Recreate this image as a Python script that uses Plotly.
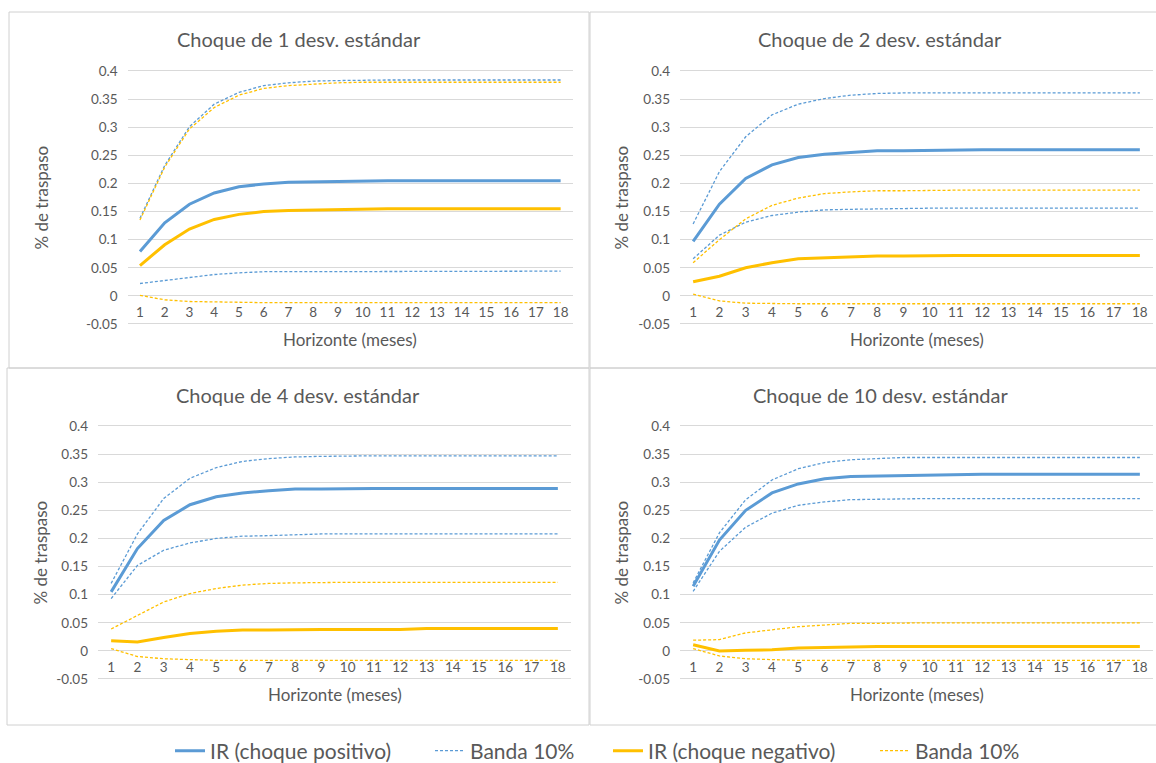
import plotly.graph_objects as go

W, H = 1156, 763

horizon = list(range(1, 19))
x_labels = [str(h) for h in horizon]
y_ticks = [-0.05, 0, 0.05, 0.1, 0.15, 0.2, 0.25, 0.3, 0.35, 0.4]
y_labels = ["-0.05", "0", "0.05", "0.1", "0.15", "0.2", "0.25", "0.3", "0.35", "0.4"]

titles = ["Choque de 1 desv. estándar", "Choque de 2 desv. estándar",
          "Choque de 4 desv. estándar", "Choque de 10 desv. estándar"]
legend_names = ["IR (choque positivo)", "Banda 10%", "IR (choque negativo)", "Banda 10%"]

# Panel 1 : 1 desv. estándar
ir_pos_1 = [0.079, 0.130, 0.163, 0.183, 0.194, 0.199, 0.202, 0.203, 0.204, 0.205, 0.205, 0.205, 0.205, 0.205, 0.205, 0.205, 0.205, 0.205]
pos_hi_1 = [0.138, 0.232, 0.301, 0.341, 0.362, 0.374, 0.379, 0.382, 0.383, 0.384, 0.384, 0.384, 0.384, 0.384, 0.384, 0.384, 0.384, 0.384]
pos_lo_1 = [0.022, 0.027, 0.033, 0.038, 0.041, 0.043, 0.043, 0.043, 0.044, 0.044, 0.044, 0.044, 0.044, 0.044, 0.044, 0.044, 0.044, 0.044]
ir_neg_1 = [0.054, 0.091, 0.119, 0.136, 0.145, 0.150, 0.152, 0.153, 0.154, 0.155, 0.155, 0.155, 0.155, 0.155, 0.155, 0.155, 0.155, 0.155]
neg_hi_1 = [0.135, 0.229, 0.297, 0.335, 0.357, 0.369, 0.374, 0.377, 0.379, 0.380, 0.380, 0.380, 0.380, 0.380, 0.380, 0.380, 0.380, 0.380]
neg_lo_1 = [0.001, -0.007, -0.010, -0.011, -0.012, -0.012, -0.012, -0.012, -0.012, -0.012, -0.012, -0.012, -0.012, -0.012, -0.012, -0.012, -0.012, -0.012]

# Panel 2 : 2 desv. estándar
ir_pos_2 = [0.097, 0.163, 0.209, 0.233, 0.246, 0.252, 0.255, 0.258, 0.258, 0.259, 0.260, 0.260, 0.260, 0.260, 0.260, 0.260, 0.260, 0.260]
pos_hi_2 = [0.128, 0.221, 0.283, 0.322, 0.341, 0.351, 0.357, 0.360, 0.361, 0.361, 0.361, 0.361, 0.361, 0.361, 0.361, 0.361, 0.361, 0.361]
pos_lo_2 = [0.066, 0.108, 0.131, 0.143, 0.149, 0.153, 0.154, 0.155, 0.156, 0.156, 0.156, 0.156, 0.156, 0.156, 0.156, 0.156, 0.156, 0.156]
ir_neg_2 = [0.025, 0.035, 0.050, 0.059, 0.066, 0.068, 0.069, 0.071, 0.071, 0.072, 0.072, 0.072, 0.072, 0.072, 0.072, 0.072, 0.072, 0.072]
neg_hi_2 = [0.059, 0.100, 0.137, 0.161, 0.174, 0.182, 0.185, 0.187, 0.187, 0.188, 0.188, 0.188, 0.188, 0.188, 0.188, 0.188, 0.188, 0.188]
neg_lo_2 = [0.003, -0.009, -0.013, -0.014, -0.014, -0.014, -0.014, -0.014, -0.014, -0.014, -0.014, -0.014, -0.014, -0.014, -0.014, -0.014, -0.014, -0.014]

# Panel 3 : 4 desv. estándar
ir_pos_3 = [0.105, 0.182, 0.232, 0.260, 0.274, 0.281, 0.285, 0.288, 0.288, 0.289, 0.289, 0.289, 0.289, 0.289, 0.289, 0.289, 0.289, 0.289]
pos_hi_3 = [0.120, 0.208, 0.271, 0.307, 0.326, 0.337, 0.342, 0.345, 0.346, 0.347, 0.347, 0.347, 0.347, 0.347, 0.347, 0.347, 0.347, 0.347]
pos_lo_3 = [0.093, 0.152, 0.179, 0.192, 0.200, 0.204, 0.205, 0.207, 0.208, 0.208, 0.208, 0.208, 0.208, 0.208, 0.208, 0.208, 0.208, 0.208]
ir_neg_3 = [0.018, 0.016, 0.024, 0.031, 0.035, 0.037, 0.037, 0.038, 0.038, 0.038, 0.038, 0.038, 0.040, 0.040, 0.040, 0.040, 0.040, 0.040]
neg_hi_3 = [0.039, 0.063, 0.087, 0.102, 0.111, 0.117, 0.120, 0.121, 0.122, 0.122, 0.122, 0.122, 0.122, 0.122, 0.122, 0.122, 0.122, 0.122]
neg_lo_3 = [0.004, -0.010, -0.014, -0.016, -0.017, -0.017, -0.017, -0.017, -0.017, -0.017, -0.017, -0.017, -0.017, -0.017, -0.017, -0.017, -0.017, -0.017]

# Panel 4 : 10 desv. estándar
ir_pos_4 = [0.115, 0.197, 0.250, 0.281, 0.297, 0.306, 0.310, 0.311, 0.312, 0.312, 0.314, 0.314, 0.314, 0.314, 0.314, 0.314, 0.314, 0.314]
pos_hi_4 = [0.121, 0.210, 0.269, 0.304, 0.324, 0.335, 0.340, 0.342, 0.344, 0.344, 0.344, 0.344, 0.344, 0.344, 0.344, 0.344, 0.344, 0.344]
pos_lo_4 = [0.106, 0.177, 0.220, 0.245, 0.259, 0.265, 0.269, 0.270, 0.271, 0.271, 0.271, 0.271, 0.271, 0.271, 0.271, 0.271, 0.271, 0.271]
ir_neg_4 = [0.011, 0.000, 0.001, 0.002, 0.005, 0.006, 0.008, 0.008, 0.008, 0.008, 0.008, 0.008, 0.008, 0.008, 0.008, 0.008, 0.008, 0.008]
neg_hi_4 = [0.019, 0.020, 0.032, 0.038, 0.043, 0.046, 0.049, 0.049, 0.050, 0.050, 0.050, 0.050, 0.050, 0.050, 0.050, 0.050, 0.050, 0.050]
neg_lo_4 = [0.004, -0.009, -0.014, -0.016, -0.017, -0.017, -0.017, -0.017, -0.017, -0.017, -0.017, -0.017, -0.017, -0.017, -0.017, -0.017, -0.017, -0.017]

panel_data = [
    (ir_pos_1, pos_hi_1, pos_lo_1, ir_neg_1, neg_hi_1, neg_lo_1),
    (ir_pos_2, pos_hi_2, pos_lo_2, ir_neg_2, neg_hi_2, neg_lo_2),
    (ir_pos_3, pos_hi_3, pos_lo_3, ir_neg_3, neg_hi_3, neg_lo_3),
    (ir_pos_4, pos_hi_4, pos_lo_4, ir_neg_4, neg_hi_4, neg_lo_4),
]

BLUE = "#5B9BD5"
ORANGE = "#FFC000"
TXT = "#595959"
GRID = "#D9D9D9"
FONT = "Lato, 'Open Sans', sans-serif"

Y_LO, Y_HI = -0.05, 0.4
PAD = 0.006


def fx(p):
    return p / W


def fy(p):
    return 1 - p / H


# pixel geometry of each panel
geo = [
    dict(x0=127.6, x1=573, yt=71, yb=324, box=(9, 12, 589, 368), tc=(299, 39), yx=41),
    dict(x0=680, x1=1153, yt=71, yb=324, box=(590, 12, 1160, 368), tc=(880, 39), yx=621),
    dict(x0=98, x1=571, yt=426, yb=679, box=(7, 368, 589, 725), tc=(298, 395), yx=40),
    dict(x0=680, x1=1153, yt=426, yb=679, box=(590, 368, 1160, 725), tc=(880, 395), yx=621),
]

fig = go.Figure()
annotations = []
shapes = []
layout = {}

styles = [
    (BLUE, 3, "solid", 0),
    (BLUE, 1.3, "3px,2px", 1),
    (BLUE, 1.3, "3px,2px", None),
    (ORANGE, 3, "solid", 2),
    (ORANGE, 1.3, "3px,2px", 3),
    (ORANGE, 1.3, "3px,2px", None),
]
legend_keys = ["legend", "legend2", "legend3", "legend4"]

for i, (series, g) in enumerate(zip(panel_data, geo)):
    n = i + 1
    xa = "x" if n == 1 else f"x{n}"
    ya = "y" if n == 1 else f"y{n}"
    for vals, (col, wid, dash, leg) in zip(series, styles):
        show = (i == 0 and leg is not None)
        fig.add_trace(go.Scatter(
            x=horizon, y=vals, mode="lines", xaxis=xa, yaxis=ya,
            line=dict(color=col, width=wid, dash=dash),
            name=legend_names[leg] if leg is not None else "",
            showlegend=show,
            legend=legend_keys[leg] if leg is not None else "legend",
            hoverinfo="skip",
        ))
    xkey = "xaxis" if n == 1 else f"xaxis{n}"
    ykey = "yaxis" if n == 1 else f"yaxis{n}"
    span_px = g["yb"] - g["yt"]
    pad_px = PAD / (Y_HI - Y_LO) * span_px
    zero_px = g["yt"] + (Y_HI - 0) / (Y_HI - Y_LO) * span_px
    layout[xkey] = dict(
        domain=[fx(g["x0"]), fx(g["x1"])], range=[0.5, 18.5],
        anchor="free", position=fy(zero_px),
        tickmode="array", tickvals=horizon, ticktext=x_labels,
        showgrid=False, zeroline=False, showline=False, ticks="",
        ticklabelstandoff=7,
        tickfont=dict(family=FONT, size=13.5, color=TXT),
    )
    layout[ykey] = dict(
        domain=[fy(g["yb"] + pad_px), fy(g["yt"] - pad_px)],
        range=[Y_LO - PAD, Y_HI + PAD], anchor=xa,
        tickmode="array", tickvals=y_ticks, ticktext=y_labels,
        showgrid=True, gridcolor=GRID, gridwidth=1, zeroline=False, showline=False,
        ticks="", ticklabelstandoff=9,
        tickfont=dict(family=FONT, size=13.5, color=TXT),
    )
    bx0, by0, bx1, by1 = g["box"]
    shapes.append(dict(type="rect", xref="paper", yref="paper",
                       x0=fx(bx0), x1=fx(bx1), y0=fy(by1), y1=fy(by0),
                       line=dict(color="#D0D0D0", width=1), fillcolor="rgba(0,0,0,0)",
                       layer="below"))
    annotations.append(dict(text=titles[i], xref="paper", yref="paper",
                            x=fx(g["tc"][0]), y=fy(g["tc"][1]), xanchor="center", yanchor="middle",
                            showarrow=False, font=dict(family=FONT, size=20, color=TXT)))
    annotations.append(dict(text="Horizonte (meses)", xref="paper", yref="paper",
                            x=fx((g["x0"] + g["x1"]) / 2), y=fy(g["yb"] + 15),
                            xanchor="center", yanchor="middle",
                            showarrow=False, font=dict(family=FONT, size=17, color=TXT)))
    annotations.append(dict(text="% de traspaso", xref="paper", yref="paper",
                            x=fx(g["yx"]), y=fy((g["yt"] + g["yb"]) / 2), textangle=-90,
                            xanchor="center", yanchor="middle",
                            showarrow=False, font=dict(family=FONT, size=17, color=TXT)))

leg_text_x = [210, 470, 648, 915]
for k, lx in zip(legend_keys, leg_text_x):
    layout[k] = dict(
        orientation="h", xref="container", yref="container",
        x=fx(lx - 40), y=fy(751), xanchor="left", yanchor="middle",
        bgcolor="rgba(0,0,0,0)", borderwidth=0,
        font=dict(family=FONT, size=21, color=TXT),
    )

fig.update_layout(
    width=W, height=H,
    margin=dict(l=0, r=0, t=0, b=0, autoexpand=False),
    paper_bgcolor="white", plot_bgcolor="white",
    annotations=annotations, shapes=shapes,
    **layout,
)

fig.write_html(
    "out.html",
    config={"displayModeBar": False},
    post_script="document.documentElement.style.margin='0';document.body.style.margin='0';"
                "document.body.style.overflow='hidden';",
)
